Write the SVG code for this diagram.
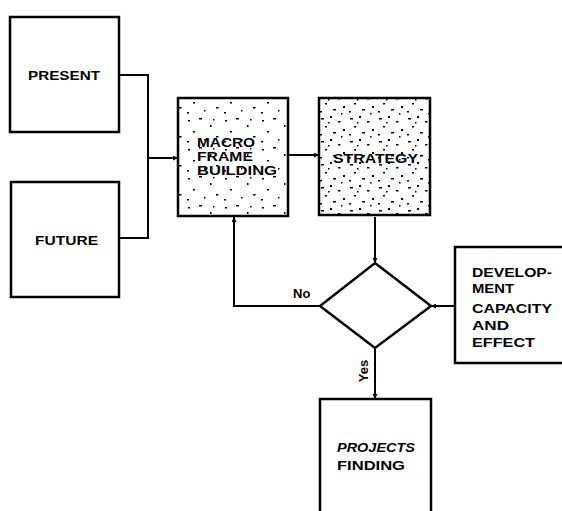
<svg xmlns="http://www.w3.org/2000/svg" width="562" height="511" viewBox="0 0 562 511">
<defs>
<style>
.box{fill:#fff;stroke:#000;stroke-width:2.5}
.t{font-family:"Liberation Sans",Arial,sans-serif;font-weight:bold;font-size:13px;fill:#000}
.c{fill:none;stroke:#000;stroke-width:2}
</style>
<pattern id="spk" width="37" height="29" patternUnits="userSpaceOnUse">
<rect width="37" height="29" fill="#fff"/>
<g fill="#000">
<rect x="3" y="4" width="2" height="1.5"/><rect x="14" y="2" width="3" height="1.5"/><rect x="25" y="9" width="1.5" height="2"/>
<rect x="8" y="15" width="2" height="1.5"/><rect x="31" y="20" width="2.5" height="1.5"/><rect x="19" y="23" width="1.5" height="1.5"/>
<rect x="2" y="25" width="2" height="1.5"/><rect x="28" y="3" width="1.5" height="1.5"/>
</g>
</pattern>
<pattern id="spk2" width="29" height="23" patternUnits="userSpaceOnUse">
<rect width="29" height="23" fill="#fff"/>
<g fill="#000">
<rect x="2" y="3" width="3" height="1.5"/><rect x="11" y="1" width="2" height="2"/><rect x="19" y="6" width="2.5" height="1.5"/>
<rect x="6" y="11" width="2" height="1.5"/><rect x="24" y="14" width="2" height="2"/><rect x="14" y="17" width="3" height="1.5"/>
<rect x="1" y="19" width="2" height="1.5"/><rect x="22" y="21" width="1.5" height="1.5"/><rect x="9" y="7" width="1.5" height="1.5"/>
</g>
</pattern>
<marker id="ah" viewBox="0 0 6 6" refX="6" refY="3" markerWidth="5" markerHeight="5" orient="auto" markerUnits="userSpaceOnUse">
<path d="M0,0 L6,3 L0,6 Z" fill="#000"/>
</marker>
</defs>

<g id="connectors">
<polyline class="c" points="119,75 148,75 148,238 119,238"/>
<line class="c" x1="148" y1="158" x2="178" y2="158" marker-end="url(#ah)"/>
<line class="c" x1="288" y1="155" x2="319" y2="155" marker-end="url(#ah)"/>
<line class="c" x1="375" y1="217" x2="375" y2="263" marker-end="url(#ah)"/>
<polyline class="c" points="320,306 234,306 234,217" marker-end="url(#ah)"/>
<line class="c" x1="455" y1="306" x2="431" y2="306" marker-end="url(#ah)"/>
<line class="c" x1="375" y1="348" x2="375" y2="399" marker-end="url(#ah)"/>
<text class="t" x="293" y="298" font-size="11">No</text>
<text class="t" x="0" y="0" font-size="11" transform="translate(368,371) rotate(-90)" text-anchor="middle">Yes</text>
</g>

<g id="present">
<rect class="box" x="10" y="17" width="109" height="115"/>
<text class="t" x="28" y="80" font-size="14" textLength="72" lengthAdjust="spacingAndGlyphs">PRESENT</text>
</g>
<g id="future">
<rect class="box" x="11" y="182" width="108" height="115"/>
<text class="t" x="35" y="245" font-size="14" textLength="63" lengthAdjust="spacingAndGlyphs">FUTURE</text>
</g>
<g id="macro">
<rect class="box" x="178" y="98" width="110" height="118" style="fill:url(#spk)"/>
<text class="t" x="197" y="147" textLength="58" lengthAdjust="spacingAndGlyphs">MACRO</text>
<text class="t" x="197" y="161" textLength="56" lengthAdjust="spacingAndGlyphs">FRAME</text>
<text class="t" x="197" y="175" textLength="80" lengthAdjust="spacingAndGlyphs">BUILDING</text>
</g>
<g id="strategy">
<rect class="box" x="319" y="98" width="111" height="117" style="fill:url(#spk2)"/>
<text class="t" x="333" y="163" font-size="14" textLength="85" lengthAdjust="spacingAndGlyphs">STRATEGY</text>
</g>
<g id="decision">
<polygon class="box" points="375,263 431,306 375,348 320,306"/>
</g>
<g id="development">
<rect class="box" x="455" y="247" width="110" height="116"/>
<text class="t" x="472" y="277" font-size="14" textLength="80" lengthAdjust="spacingAndGlyphs">DEVELOP-</text>
<text class="t" x="472" y="293" font-size="14" textLength="42" lengthAdjust="spacingAndGlyphs">MENT</text>
<text class="t" x="472" y="313" font-size="14" textLength="80" lengthAdjust="spacingAndGlyphs">CAPACITY</text>
<text class="t" x="472" y="330" font-size="14" textLength="37" lengthAdjust="spacingAndGlyphs">AND</text>
<text class="t" x="472" y="347" font-size="14" textLength="63" lengthAdjust="spacingAndGlyphs">EFFECT</text>
</g>
<g id="projects">
<rect class="box" x="320" y="399" width="111" height="120"/>
<text class="t" x="337" y="452" font-size="14" font-style="italic" textLength="78" lengthAdjust="spacingAndGlyphs">PROJECTS</text>
<text class="t" x="337" y="470" font-size="14" textLength="68" lengthAdjust="spacingAndGlyphs">FINDING</text>
</g>
</svg>
